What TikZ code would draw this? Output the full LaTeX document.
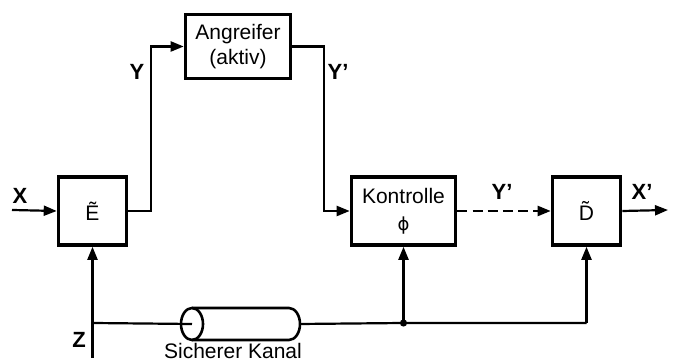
\documentclass[tikz,border=0pt]{standalone}
\usepackage{fontspec}
\setmainfont{Liberation Sans}
\newfontfamily\dvsans{DejaVu Sans}
\usetikzlibrary{arrows.meta}

\begin{document}
\begin{tikzpicture}[x=0.5pt, y=-0.5pt,
    block/.style={draw, line width=1.8pt, minimum width=34pt, minimum height=34pt, inner sep=0pt, font=\fontsize{10.5}{12.5}\selectfont, align=center},
    conn/.style={line width=1.1pt},
    arr/.style={conn, -{Triangle[length=6.5pt, width=5pt]}},
    lbl/.style={font=\fontsize{11}{12}\selectfont\bfseries}]
    \useasboundingbox (0,0) rectangle (676,362);

    % Blocks
    \node[block] (E) at (92.5,211) {\~E};
    \node[block, minimum width=52.5pt, minimum height=32pt] (A) at (238,46.5) {Angreifer\\(aktiv)};
    \node[block, minimum width=52pt] (K) at (403.5,211) {Kontrolle\\[1pt]{\dvsans\fontsize{9}{10}\selectfont ϕ}};
    \node[block] (D) at (586.5,211) {\~D};

    % Free ends
    \coordinate (xin) at (12,210);
    \coordinate (xout) at (668,210);
    \coordinate (zj) at (E.south |- 0,323);
    \coordinate (zin) at (E.south |- 0,358);
    \coordinate (kj) at (K.south |- zj);
    \coordinate (dj) at (D.south |- zj);

    % Secure channel
    \coordinate (cl) at (192,324);
    \coordinate (cr) at (300,324);
    \draw[line width=1.3pt] (cl) ellipse (11 and 16);
    \draw[line width=1.3pt] (192,308) -- (289,308) arc[start angle=90, end angle=-90, x radius=11, y radius=-16] -- (192,340);
    \node[font=\fontsize{10.5}{12}\selectfont, anchor=base, inner sep=0pt] at (233,359) {Sicherer Kanal};

    % Data path
    \draw[arr] (xin) -- (E.west);
    \draw[arr] (E.east) -- ++(23,0) |- (A.west);
    \draw[arr] (A.east) -- ++(32,0) |- (K.west);
    \draw[arr, dashed, dash pattern=on 5pt off 2.6pt] (K.east) -- (D.west);
    \draw[arr] (D.east) -- (xout);

    % Key path
    \draw[arr] (zin) -- (E.south);
    \draw[conn] (zj) -- (cl);
    \draw[conn] (cr) -- (kj) -- (dj);
    \draw[arr] (kj) -- (K.south);
    \draw[arr] (dj) -- (D.south);
    \fill (kj) circle (1.8pt);

    % Labels
    \node[lbl] at (20,196) {X};
    \node[lbl] at (137,72) {Y};
    \node[lbl] at (338,72) {Y'};
    \node[lbl] at (502,192) {Y'};
    \node[lbl] at (642,192) {X'};
    \node[lbl] at (79,340) {Z};
\end{tikzpicture}
\end{document}
